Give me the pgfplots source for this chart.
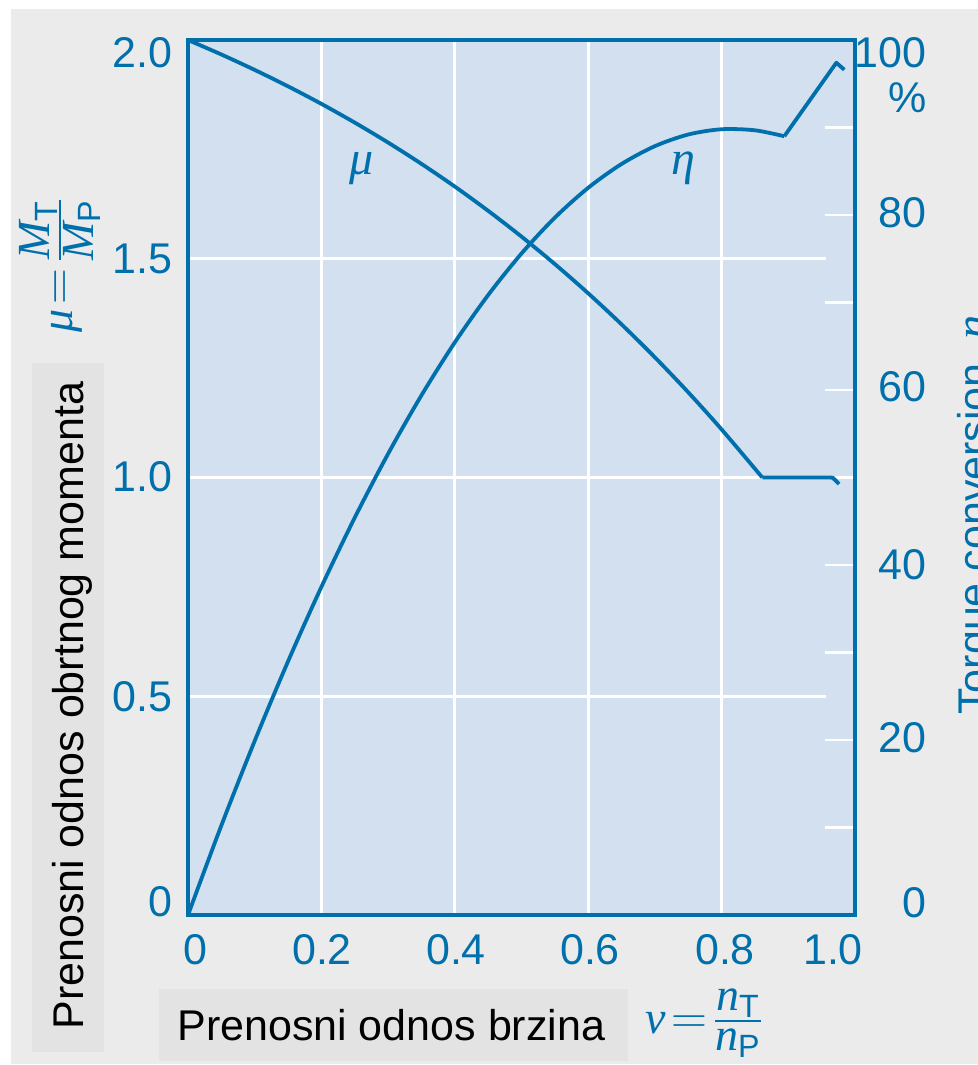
\documentclass[border=0pt]{standalone}
\usepackage{amsmath}
\usepackage{fontspec}
\setmainfont{Liberation Sans}
\setsansfont{Liberation Sans}
\newfontfamily\tms{Liberation Serif}
\usepackage{pgfplots}
\pgfplotsset{compat=1.18}
\definecolor{bgc}{RGB}{235,235,235}
\definecolor{boxc}{RGB}{227,227,227}
\definecolor{plotbg}{RGB}{211,224,240}
\definecolor{tblue}{RGB}{0,112,172}
\newcommand\mi[1]{\mbox{\tms\itshape #1}}
\newcommand\tkfont{\fontsize{21.5}{25}\selectfont}
\newcommand\mthfont{\fontsize{23}{27}\selectfont}
\newcommand\crvfont{\fontsize{24}{28}\selectfont}
\begin{document}
\begin{tikzpicture}[x=0.5pt,y=-0.5pt]
\path[use as bounding box] (0,0) rectangle (978,1065);
\clip (0,0) rectangle (978,1065);
\fill[bgc] (11,9) rectangle (978,1064);
% ---------- mu axis ----------
\begin{axis}[
  at={(94pt,-457.5pt)}, anchor=south west,
  scale only axis, width=333.5pt, height=437.5pt,
  xmin=0, xmax=1, ymin=0, ymax=2,
  axis background/.style={fill=plotbg},
  axis line style={tblue, line width=1.6pt},
  xtick={0.2,0.4,0.6,0.8}, xticklabels={},
  xmajorgrids, major x grid style={white, line width=1.4pt},
  xtick style={draw=none},
  ytick={0.2,0.4,0.6,0.8,1.0,1.2,1.4,1.6,1.8}, yticklabels={},
  ytick pos=right,
  ytick style={white, line width=1.4pt},
  tick align=inside, major tick length=15pt,
  clip=false,
]
\draw[white, line width=1.4pt] (axis cs:0.003,0.5) -- (axis cs:0.9565,0.5);
\draw[white, line width=1.4pt] (axis cs:0.003,1.0) -- (axis cs:0.9565,1.0);
\draw[white, line width=1.4pt] (axis cs:0.003,1.5) -- (axis cs:0.9565,1.5);
\addplot[tblue, line width=1.9pt, smooth, line join=round] coordinates {
(0,2.0) (0.05,1.9669) (0.1,1.9316) (0.15,1.8941) (0.2,1.8540) (0.25,1.8112)
(0.3,1.7656) (0.35,1.7169) (0.4,1.6650) (0.45,1.6096) (0.5,1.5506) (0.55,1.4878)
(0.6,1.4210) (0.65,1.3500) (0.7,1.2746) (0.75,1.1947) (0.8,1.1099) (0.861,1.0)};
\addplot[tblue, line width=1.9pt, smooth, line join=round] coordinates {
(0.861,1.0) (0.958,1.0) (0.968,0.997) (0.976,0.985)};
\node[text=tblue, inner sep=0] at (axis cs:0.26,1.707) {\crvfont\tms\itshape μ};
\node[text=tblue, inner sep=0] at (axis cs:0.743,1.707) {\crvfont\tms\itshape η};
\end{axis}
% ---------- eta axis ----------
\begin{axis}[
  at={(94pt,-457.5pt)}, anchor=south west,
  scale only axis, width=333.5pt, height=437.5pt,
  xmin=0, xmax=1, ymin=0, ymax=100,
  hide axis, clip=false,
]
\addplot[tblue, line width=1.9pt, smooth, line join=round] coordinates {
(0,0) (0.05,10.23) (0.1,19.90) (0.15,28.99) (0.2,37.50) (0.25,45.41)
(0.3,52.71) (0.35,59.39) (0.4,65.44) (0.45,70.85) (0.5,75.60) (0.55,79.70)
(0.6,83.11) (0.65,85.83) (0.7,87.87) (0.75,89.20) (0.8,89.80) (0.85,89.68)
(0.894,89.0)};
\addplot[tblue, line width=1.9pt, line join=round] coordinates {
(0.894,89.0) (0.972,97.4) (0.984,96.6)};
\end{axis}
% ---------- tick labels ----------
\begin{scope}[every node/.style={text=tblue, inner sep=0, font=\tkfont}]
\node[anchor=east] at (173,53) {2.0};
\node[anchor=east] at (173,259) {1.5};
\node[anchor=east] at (173,477) {1.0};
\node[anchor=east] at (173,697) {0.5};
\node[anchor=east] at (173,902) {0};
\node[anchor=east] at (927,53) {100};
\node[anchor=east] at (927,98) {\%};
\node[anchor=east] at (927,213) {80};
\node[anchor=east] at (927,387) {60};
\node[anchor=east] at (927,565) {40};
\node[anchor=east] at (927,738) {20};
\node[anchor=east] at (927,903) {0};
\node at (195,950) {0};
\node at (322,950) {0.2};
\node at (456,950) {0.4};
\node at (590,950) {0.6};
\node at (725,950) {0.8};
\node at (833,950) {1.0};
\end{scope}
% ---------- axis titles ----------
\node[rotate=90, inner sep=0, text=tblue] at (60,265)
  {\mthfont $\mi{μ}\mkern-3mu=\mkern-3mu\frac{\displaystyle\mi{M}_{\textsf{T}}}{\displaystyle\mi{M}_{\textsf{P}}}$};
\node[rotate=90, anchor=base west, inner sep=0, text=tblue] at (988,715)
  {\tkfont Torque conversion, {\crvfont\tms\itshape η}};
\fill[boxc] (32,363) rectangle (104,1052);
\node[rotate=90, anchor=base west, inner sep=0] at (83,1030)
  {\tkfont Prenosni odnos obrtnog momenta};
\fill[boxc] (159,989) rectangle (628,1061);
\node[anchor=base west, inner sep=0] at (177,1040) {\tkfont Prenosni odnos brzina};
\node[anchor=base west, inner sep=0, text=tblue] at (645,1033)
  {\mthfont $\mi{ν}\mkern-3mu=\mkern-3mu\frac{\displaystyle\mi{n}_{\textsf{T}}}{\displaystyle\mi{n}_{\textsf{P}}}$};
\end{tikzpicture}
\end{document}
